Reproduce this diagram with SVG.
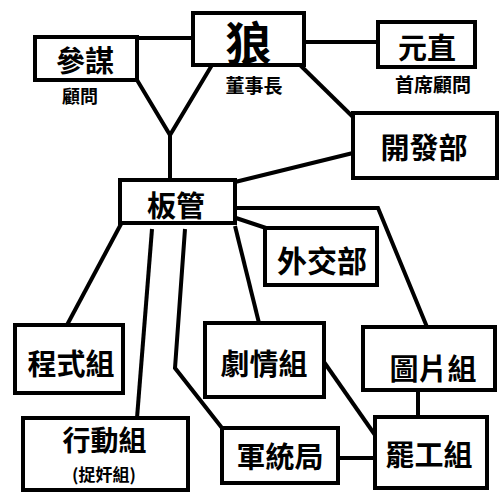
<svg xmlns="http://www.w3.org/2000/svg" width="500" height="500" viewBox="0 0 500 500">
<style>
.box{fill:#fff;stroke:#000;stroke-width:4}
.lbl{font-family:"Noto Sans CJK TC","Noto Sans CJK SC",sans-serif;font-weight:bold;text-anchor:middle;dominant-baseline:central;fill:#000}
.sub{font-family:"Noto Sans CJK TC","Noto Sans CJK SC",sans-serif;font-weight:bold;text-anchor:middle;dominant-baseline:central;fill:#000}
.conn path{fill:none;stroke:#000;stroke-width:4;stroke-linejoin:miter}
</style>
<rect width="500" height="500" fill="#fff"/>
<g id="connectors" class="conn">
<path d="M137 38 H193"/>
<path d="M137 80 L170 135 L212 65"/>
<path d="M170 135 V180"/>
<path d="M304 42 H378"/>
<path d="M300 65 L353 117"/>
<path d="M353 153 L235 182"/>
<path d="M236 218 L266 228"/>
<path d="M235 208 H378 L427 327"/>
<path d="M121 224 L67 325"/>
<path d="M152 229 L137 418"/>
<path d="M185 229 L175 368 L222 428"/>
<path d="M235 226 L259 323"/>
<path d="M324 362 L375 435"/>
<path d="M418 390 V417"/>
<path d="M338 458 H375"/>
</g>
<g id="wolf">
<rect class="box" x="193" y="13" width="111" height="52"/>
<text class="lbl" x="248.5" y="40" font-size="46">狼</text>
<text class="sub" x="254" y="84" font-size="19">董事長</text>
</g>
<g id="canmou">
<rect class="box" x="35" y="37" width="102" height="43"/>
<text class="lbl" x="85" y="59" font-size="29">參謀</text>
<text class="sub" x="80" y="95" font-size="18">顧問</text>
</g>
<g id="yuanzhi">
<rect class="box" x="378" y="22" width="97" height="45"/>
<text class="lbl" x="427" y="46" font-size="29">元直</text>
<text class="sub" x="433" y="83" font-size="19">首席顧問</text>
</g>
<g id="kaifabu">
<rect class="box" x="353" y="113" width="144" height="65"/>
<text class="lbl" x="424" y="146" font-size="29">開發部</text>
</g>
<g id="banguan">
<rect class="box" x="120" y="180" width="115" height="43"/>
<text class="lbl" x="176" y="204" font-size="29">板管</text>
</g>
<g id="waijiaobu">
<rect class="box" x="265" y="228" width="112" height="57"/>
<text class="lbl" x="322" y="259" font-size="30">外交部</text>
</g>
<g id="chengshizu">
<rect class="box" x="15" y="325" width="108" height="68"/>
<text class="lbl" x="71" y="362" font-size="29">程式組</text>
</g>
<g id="xingdongzu">
<rect class="box" x="23" y="418" width="165" height="72"/>
<text class="lbl" x="104.5" y="439" font-size="28">行動組</text>
<text class="sub" x="104" y="473" font-size="17">(捉奸組)</text>
</g>
<g id="juqingzu">
<rect class="box" x="205" y="323" width="119" height="74"/>
<text class="lbl" x="264" y="362" font-size="29">劇情組</text>
</g>
<g id="tupianzu">
<rect class="box" x="363" y="327" width="132" height="63"/>
<text class="lbl" x="433" y="367" font-size="29">圖片組</text>
</g>
<g id="juntongju">
<rect class="box" x="222" y="428" width="116" height="55"/>
<text class="lbl" x="280" y="455" font-size="29">軍統局</text>
</g>
<g id="bagongzu">
<rect class="box" x="375" y="417" width="112" height="71"/>
<text class="lbl" x="429" y="453" font-size="29">罷工組</text>
</g>
</svg>
